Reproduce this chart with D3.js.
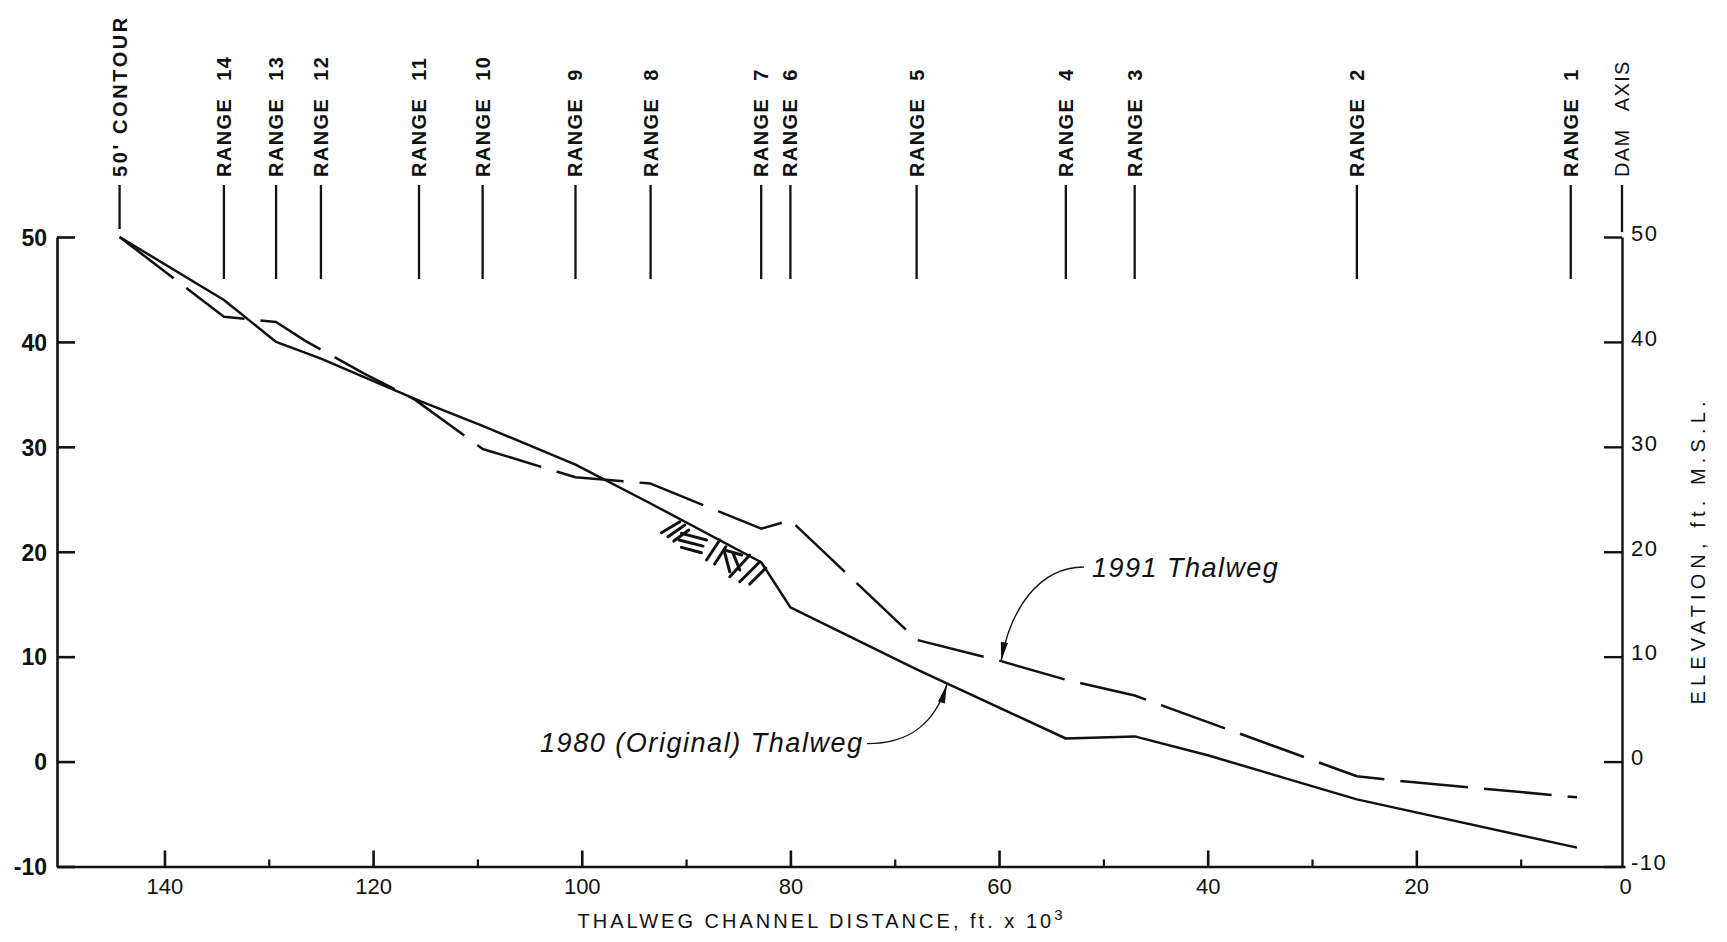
<!DOCTYPE html>
<html>
<head>
<meta charset="utf-8">
<script src="https://cdn.jsdelivr.net/npm/d3@7"></script>
<style>
  html, body { margin: 0; padding: 0; background: #fff; }
  svg { display: block; }
  text { fill: #111; }
</style>
</head>
<body>
<svg id="chart" width="1727" height="942"></svg>
<script>
// Thalweg profiles: channel distance above the dam (ft x 10^3) against elevation (ft M.S.L.)
const original1980Dist = [144.3, 134.3, 129.3, 125.0, 115.6, 109.5, 100.6, 93.4, 82.8, 80.0, 67.9, 53.6, 47.0, 40.0, 25.7, 4.6];
const original1980Elev = [50.0, 44.0, 40.0, 38.4, 34.4, 32.0, 28.3, 24.6, 19.0, 14.7, 8.8, 2.2, 2.4, 0.6, -3.6, -8.2];

const survey1991Dist = [144.3, 134.3, 129.3, 126.5, 120.9, 116.0, 109.5, 100.6, 93.4, 82.8, 80.0, 67.9, 59.9, 53.6, 47.0, 25.7, 21.0, 4.6];
const survey1991Elev = [50.0, 42.4, 41.9, 40.1, 37.0, 34.5, 29.8, 27.1, 26.5, 22.2, 23.0, 11.6, 9.6, 7.8, 6.3, -1.4, -1.9, -3.4];

// Survey range stations along the channel
const stationNames = ["50' CONTOUR", "RANGE|14", "RANGE|13", "RANGE|12", "RANGE|11", "RANGE|10", "RANGE|9", "RANGE|8",
                      "RANGE|7", "RANGE|6", "RANGE|5", "RANGE|4", "RANGE|3", "RANGE|2", "RANGE|1", "DAM|AXIS"];
const stationDist = [144.3, 134.3, 129.3, 125.0, 115.6, 109.5, 100.6, 93.4, 82.8, 80.0, 67.9, 53.6, 47.0, 25.7, 5.2, 0];

// Axis ticks
const distMajorTicks = [0, 20, 40, 60, 80, 100, 120, 140];
const distMinorTicks = [10, 30, 50, 70, 90, 110, 130];
const elevTicks = [-10, 0, 10, 20, 30, 40, 50];

// Bedrock symbol strokes below the 1980 thalweg, as [dist1, elev1, dist2, elev2]
const rockStrokes = [
  [92.36, 21.81, 90.60, 22.86], [91.73, 21.43, 90.12, 22.55], [91.18, 21.02, 89.74, 22.07],
  [90.44, 21.75, 88.04, 21.12], [90.67, 21.12, 88.37, 20.54], [90.44, 20.42, 88.53, 19.90],
  [88.04, 19.21, 86.77, 21.12], [87.26, 18.83, 86.19, 20.48],
  [86.29, 19.88, 85.81, 18.09], [85.49, 19.85, 84.85, 18.26], [86.29, 20.16, 84.66, 19.69],
  [85.81, 17.62, 83.89, 19.69], [84.85, 17.14, 82.93, 19.05], [83.89, 16.92, 82.36, 18.45]
];

const svg = d3.select("#chart");
const x = d3.scaleLinear().domain([150.3, 0]).range([57, 1625]);
const y = d3.scaleLinear().domain([-10, 50]).range([866.5, 237]);

const SANS = "'Liberation Sans', Arial, sans-serif";
const plain = d => String(d);   // hyphen-minus, as lettered on the sheet

// ---- axes ----
function styleAxis(g, width) {
  g.selectAll("path.domain").attr("stroke", "#111").attr("stroke-width", width);
  g.selectAll(".tick line").attr("stroke", "#111").attr("stroke-width", width);
}

const leftAxis = svg.append("g").attr("transform", `translate(${x(150.3)},0)`)
  .call(d3.axisLeft(y).tickValues(elevTicks).tickFormat(plain).tickSize(-18).tickSizeOuter(0).tickPadding(10));
styleAxis(leftAxis, 2.6);
leftAxis.selectAll("text").attr("font-family", SANS).attr("font-size", 23).attr("font-weight", "bold")
  .attr("fill", "#111").attr("dy", "0.36em");

const rightAxis = svg.append("g").attr("transform", `translate(${x(0) - 3},0)`)
  .call(d3.axisRight(y).tickValues(elevTicks).tickFormat(plain).tickSize(-18).tickSizeOuter(0).tickPadding(9));
styleAxis(rightAxis, 2.4);
rightAxis.selectAll("text").attr("font-family", SANS).attr("font-size", 22).attr("letter-spacing", 1.5)
  .attr("fill", "#111").attr("dy", "0.15em");

const bottomAxis = svg.append("g").attr("transform", `translate(0,${y(-10)})`)
  .call(d3.axisBottom(x).tickValues(distMajorTicks).tickFormat(plain).tickSize(-16).tickSizeOuter(0).tickPadding(9));
styleAxis(bottomAxis, 2.6);
// the zero station sits on the right-hand elevation axis, so it needs no tick of its own
bottomAxis.selectAll(".tick").filter(d => d === 0).select("line").remove();
bottomAxis.selectAll("text").attr("font-family", SANS).attr("font-size", 22).attr("fill", "#111")
  .attr("dy", "0.85em");

const minorAxis = svg.append("g").attr("transform", `translate(0,${y(-10)})`)
  .call(d3.axisBottom(x).tickValues(distMinorTicks).tickSize(-7).tickSizeOuter(0).tickFormat(""));
styleAxis(minorAxis, 2.2);
minorAxis.select("path.domain").remove();

// ---- station markers along the top ----
const stations = stationNames.map((n, i) => ({ name: n, d: stationDist[i] }));
const stationG = svg.append("g");
stations.forEach(s => {
  const px = s.d === 0 ? x(0) - 3 : x(s.d);
  const isContour = s.name.startsWith("50'");
  const isDam = s.name.startsWith("DAM");
  const yBottom = isContour ? 229 : (isDam ? 232 : 279);
  stationG.append("line")
    .attr("x1", px).attr("x2", px).attr("y1", 185).attr("y2", yBottom)
    .attr("stroke", "#111").attr("stroke-width", 2.3);
  const t = stationG.append("text")
    .attr("transform", `translate(${px},177) rotate(-90)`)
    .attr("font-family", SANS).attr("font-size", 20)
    .attr("font-weight", isDam ? "normal" : "bold")
    .attr("letter-spacing", isContour ? 2.6 : 1.4)
    .attr("dominant-baseline", "central")
    .attr("text-anchor", "start");
  if (isContour) {
    t.text(s.name);
  } else {
    const parts = s.name.split("|");
    t.append("tspan").text(parts[0]);
    t.append("tspan").attr("dx", 17).text(parts[1]);
  }
});

// ---- thalweg lines ----
const line = d3.line().x(d => x(d[0])).y(d => y(d[1]));
const original1980 = original1980Dist.map((d, i) => [d, original1980Elev[i]]);
const survey1991 = survey1991Dist.map((d, i) => [d, survey1991Elev[i]]);

svg.append("path").datum(original1980).attr("d", line)
  .attr("fill", "none").attr("stroke", "#111").attr("stroke-width", 2.5)
  .attr("stroke-linejoin", "round");

svg.append("path").datum(survey1991).attr("d", line)
  .attr("fill", "none").attr("stroke", "#111").attr("stroke-width", 2.5)
  .attr("stroke-dasharray", "68,16").attr("stroke-linejoin", "round");

// bedrock hatching
svg.append("g").selectAll("line").data(rockStrokes).join("line")
  .attr("x1", d => x(d[0])).attr("y1", d => y(d[1]))
  .attr("x2", d => x(d[2])).attr("y2", d => y(d[3]))
  .attr("stroke", "#111").attr("stroke-width", 3).attr("stroke-linecap", "round");

// ---- callouts ----
function elevAt(series, d) {
  for (let i = 0; i < series.length - 1; i++) {
    const a = series[i], b = series[i + 1];
    if ((d <= a[0] && d >= b[0])) {
      const t = (a[0] - d) / (a[0] - b[0]);
      return a[1] + t * (b[1] - a[1]);
    }
  }
  return series[series.length - 1][1];
}

function arrowHead(g, tip, from) {
  const ang = Math.atan2(tip[1] - from[1], tip[0] - from[0]);
  const L = 19, W = 3.6;
  const bx = tip[0] - L * Math.cos(ang), by = tip[1] - L * Math.sin(ang);
  const nx = -Math.sin(ang) * W, ny = Math.cos(ang) * W;
  g.append("path")
    .attr("d", `M${tip[0]},${tip[1]} L${bx + nx},${by + ny} L${bx - nx},${by - ny} Z`)
    .attr("fill", "#111");
}

const calloutG = svg.append("g");

// 1991 Thalweg
{
  const tipD = 59.8;
  const tip = [x(tipD), y(elevAt(survey1991, tipD))];
  const tx = x(51.1), ty = y(17.6);
  calloutG.append("text").attr("x", tx).attr("y", ty)
    .attr("font-family", SANS).attr("font-style", "italic").attr("font-size", 27)
    .attr("textLength", 186).attr("lengthAdjust", "spacing")
    .text("1991 Thalweg");
  const s = [tx - 8, ty - 10];
  const c1 = [s[0] - 45, s[1]], c2 = [tip[0] + 9, tip[1] - 52];
  calloutG.append("path")
    .attr("d", `M${s[0]},${s[1]} C${c1[0]},${c1[1]} ${c2[0]},${c2[1]} ${tip[0]},${tip[1]}`)
    .attr("fill", "none").attr("stroke", "#111").attr("stroke-width", 1.4);
  arrowHead(calloutG, tip, c2);
}

// 1980 (Original) Thalweg
{
  const tipD = 65.0;
  const tip = [x(tipD), y(elevAt(original1980, tipD)) + 1];
  const tx = x(104.0), ty = y(0.95);
  calloutG.append("text").attr("x", tx).attr("y", ty)
    .attr("font-family", SANS).attr("font-style", "italic").attr("font-size", 27)
    .attr("textLength", 322).attr("lengthAdjust", "spacing")
    .text("1980 (Original) Thalweg");
  const s = [tx + 327, ty - 8];
  const c1 = [s[0] + 42, s[1]], c2 = [tip[0] - 12, tip[1] + 40];
  calloutG.append("path")
    .attr("d", `M${s[0]},${s[1]} C${c1[0]},${c1[1]} ${c2[0]},${c2[1]} ${tip[0]},${tip[1]}`)
    .attr("fill", "none").attr("stroke", "#111").attr("stroke-width", 1.4);
  arrowHead(calloutG, tip, c2);
}

// ---- axis titles ----
const xTitle = svg.append("text")
  .attr("x", 820).attr("y", 928).attr("text-anchor", "middle")
  .attr("font-family", SANS).attr("font-size", 20)
  .attr("textLength", 485).attr("lengthAdjust", "spacing");
xTitle.append("tspan").text("THALWEG CHANNEL DISTANCE, ft. x 10");
xTitle.append("tspan").attr("dy", -8).attr("font-size", 15).text("3");

svg.append("text")
  .attr("transform", "translate(1698,553) rotate(-90)")
  .attr("text-anchor", "middle").attr("dominant-baseline", "central")
  .attr("font-family", SANS).attr("font-size", 20)
  .attr("textLength", 303).attr("lengthAdjust", "spacing")
  .text("ELEVATION, ft. M.S.L.");
</script>
</body>
</html>
